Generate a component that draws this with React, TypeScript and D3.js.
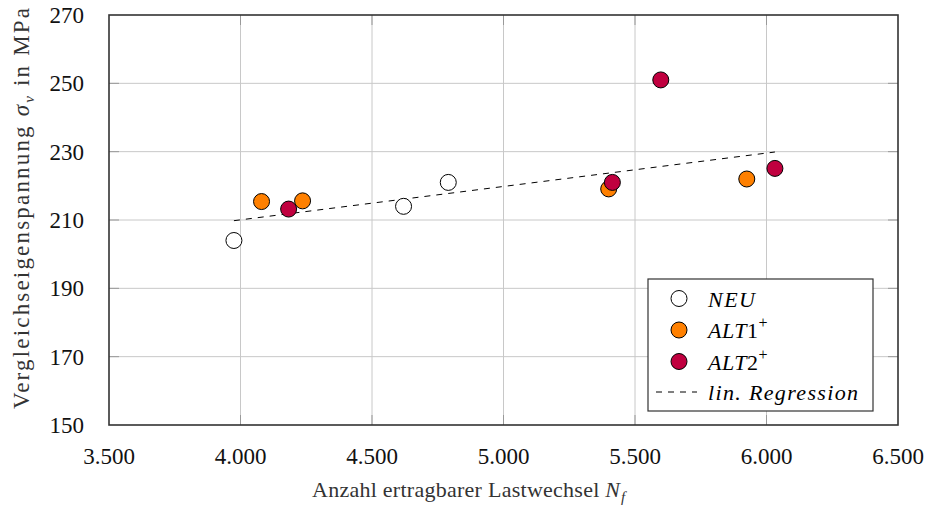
import React from "react";
import * as d3 from "d3";

const xTicks = [3500, 4000, 4500, 5000, 5500, 6000, 6500];
const yTicks = [150, 170, 190, 210, 230, 250, 270];

const neuX = [3975, 4620, 4790];
const neuY = [204, 214, 221];
const alt1X = [4080, 4236, 5400, 5925];
const alt1Y = [215.4, 215.6, 219.1, 222];
const alt2X = [4183, 5414, 5598, 6032];
const alt2Y = [213.2, 221, 251, 225.1];
const regX = [3975, 6032];
const regY = [209.8, 229.9];

const W = 934, H = 506;
const L = 109, R = 898, T = 15, B = 425;
const FONT = "'Liberation Serif', 'DejaVu Serif', serif";
const ORANGE = "#ff8000";
const RED = "#c0003f";

const fmt = (v: number) => d3.format(",")(v).replace(/,/g, ".");

export default function App() {
  const x = d3.scaleLinear().domain([3500, 6500]).range([L, R]);
  const y = d3.scaleLinear().domain([150, 270]).range([B, T]);
  const line = d3.line<number>().x((_, i) => x(regX[i])).y((_, i) => y(regY[i]));

  const series = [
    { xs: neuX, ys: neuY, fill: "#ffffff" },
    { xs: alt1X, ys: alt1Y, fill: ORANGE },
    { xs: alt2X, ys: alt2Y, fill: RED },
  ];

  const lgX = 648, lgY = 279, lgW = 225, lgH = 132;
  const rows = [298.5, 330, 361.5, 392];

  return (
    <svg width={W} height={H} style={{ position: "absolute", left: 0, top: 0, background: "#fff" }} fontFamily={FONT}>
      {/* grid */}
      {xTicks.slice(1, -1).map((t) => (
        <line key={"gx" + t} x1={x(t)} x2={x(t)} y1={T} y2={B} stroke="#c8c8c8" strokeWidth={1} />
      ))}
      {yTicks.slice(1, -1).map((t) => (
        <line key={"gy" + t} x1={L} x2={R} y1={y(t)} y2={y(t)} stroke="#c8c8c8" strokeWidth={1} />
      ))}
      {/* tick marks */}
      {xTicks.slice(1, -1).map((t) => (
        <g key={"tx" + t}>
          <line x1={x(t)} x2={x(t)} y1={B} y2={B - 10} stroke="#999" strokeWidth={1} />
          <line x1={x(t)} x2={x(t)} y1={T} y2={T + 10} stroke="#999" strokeWidth={1} />
        </g>
      ))}
      {yTicks.slice(1, -1).map((t) => (
        <g key={"ty" + t}>
          <line x1={L} x2={L + 10} y1={y(t)} y2={y(t)} stroke="#999" strokeWidth={1} />
          <line x1={R} x2={R - 10} y1={y(t)} y2={y(t)} stroke="#999" strokeWidth={1} />
        </g>
      ))}
      {/* frame */}
      <rect x={L} y={T} width={R - L} height={B - T} fill="none" stroke="#333" strokeWidth={1.6} />

      {/* regression */}
      <path d={line([0, 1]) || ""} fill="none" stroke="#000" strokeWidth={1} strokeDasharray="6,6" />

      {/* points */}
      {series.map((s, si) =>
        s.xs.map((xv, i) => (
          <circle key={si + "-" + i} cx={x(xv)} cy={y(s.ys[i])} r={8} fill={s.fill} stroke="#000" strokeWidth={1} />
        ))
      )}

      {/* tick labels */}
      {xTicks.map((t) => (
        <text key={"lx" + t} x={x(t)} y={464} textAnchor="middle" fontSize={23} fill="#111">
          {fmt(t)}
        </text>
      ))}
      {yTicks.map((t) => (
        <text key={"ly" + t} x={84} y={y(t) + 8} textAnchor="end" fontSize={23} fill="#111">
          {t}
        </text>
      ))}

      {/* axis labels */}
      <text x={312} y={497} fontSize={22} fill="#333" textLength={308} lengthAdjust="spacing">
        Anzahl ertragbarer Lastwechsel <tspan fontStyle="italic">N</tspan>
      </text>
      <text x={621} y={502} fontSize={15} fontStyle="italic" fill="#333">f</text>
      <g transform="translate(29,409) rotate(-90)">
        <text x={0} y={0} fontSize={23} fill="#333" textLength={401} lengthAdjust="spacing">
          Vergleichseigenspannung <tspan fontStyle="italic">σ</tspan>
          <tspan fontStyle="italic" fontSize={15} dy={5}>v</tspan>
          <tspan dy={-5}> in MPa</tspan>
        </text>
      </g>

      {/* legend */}
      <rect x={lgX} y={lgY} width={lgW} height={lgH} fill="#fff" stroke="#333" strokeWidth={1.2} />
      {series.map((s, i) => (
        <circle key={"lg" + i} cx={679} cy={rows[i]} r={8} fill={s.fill} stroke="#000" strokeWidth={1} />
      ))}
      <line x1={656} x2={697} y1={rows[3]} y2={rows[3]} stroke="#000" strokeWidth={1} strokeDasharray="6,6" />
      <text x={708} y={rows[0] + 8} fontSize={22} fontStyle="italic" letterSpacing={1.5}>NEU</text>
      <text x={708} y={rows[1] + 8} fontSize={22} letterSpacing={0.5}>
        <tspan fontStyle="italic">ALT</tspan>1<tspan fontSize={16} dy={-10}>+</tspan>
      </text>
      <text x={708} y={rows[2] + 8} fontSize={22} letterSpacing={0.5}>
        <tspan fontStyle="italic">ALT</tspan>2<tspan fontSize={16} dy={-10}>+</tspan>
      </text>
      <text x={708} y={rows[3] + 8} fontSize={22} fontStyle="italic" textLength={150} lengthAdjust="spacing">lin. Regression</text>
    </svg>
  );
}
